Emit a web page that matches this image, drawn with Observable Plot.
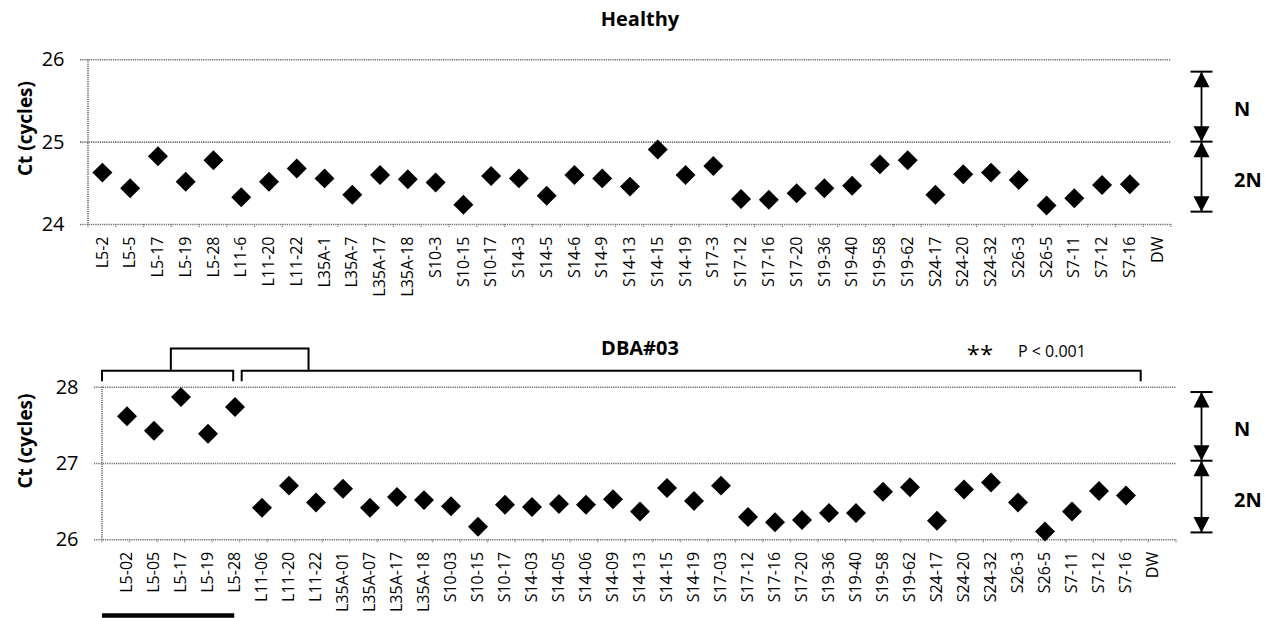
<!DOCTYPE html>
<html><head><meta charset="utf-8">
<script src="https://cdn.jsdelivr.net/npm/d3@7"></script>
<script src="https://cdn.jsdelivr.net/npm/@observablehq/plot@0.6"></script>
<style>
html,body{margin:0;padding:0;background:#fff;}
#wrap{position:relative;width:1280px;height:618px;overflow:hidden;font-family:"Open Sans",sans-serif;}
#wrap svg{position:absolute;left:0;}
</style></head>
<body><div id="wrap"></div>
<script>
// ---- data ----
const healthyLabels = ["L5-2","L5-5","L5-17","L5-19","L5-28","L11-6","L11-20","L11-22","L35A-1","L35A-7","L35A-17","L35A-18","S10-3","S10-15","S10-17","S14-3","S14-5","S14-6","S14-9","S14-13","S14-15","S14-19","S17-3","S17-12","S17-16","S17-20","S19-36","S19-40","S19-58","S19-62","S24-17","S24-20","S24-32","S26-3","S26-5","S7-11","S7-12","S7-16","DW"];
const healthyCt = [24.63,24.44,24.83,24.52,24.78,24.33,24.52,24.68,24.56,24.36,24.60,24.55,24.51,24.24,24.59,24.56,24.35,24.60,24.56,24.46,24.91,24.60,24.71,24.31,24.30,24.38,24.44,24.47,24.73,24.78,24.36,24.61,24.63,24.54,24.23,24.32,24.48,24.49];
const dbaLabels = ["L5-02","L5-05","L5-17","L5-19","L5-28","L11-06","L11-20","L11-22","L35A-01","L35A-07","L35A-17","L35A-18","S10-03","S10-15","S10-17","S14-03","S14-05","S14-06","S14-09","S14-13","S14-15","S14-19","S17-03","S17-12","S17-16","S17-20","S19-36","S19-40","S19-58","S19-62","S24-17","S24-20","S24-32","S26-3","S26-5","S7-11","S7-12","S7-16","DW"];
const dbaCt = [27.62,27.43,27.87,27.39,27.74,26.42,26.71,26.49,26.67,26.42,26.56,26.52,26.44,26.17,26.46,26.43,26.47,26.46,26.53,26.37,26.68,26.51,26.71,26.30,26.23,26.26,26.35,26.35,26.63,26.69,26.25,26.66,26.75,26.49,26.11,26.37,26.64,26.58];
const healthyTicks = [24, 25, 26];
const dbaTicks = [26, 27, 28];
const healthyCopyLevels = [25.85, 25.0, 24.15];   // N / 2N arrows
const dbaCopyLevels = [27.93, 27.03, 26.09];
const copyNames = ["N", "2N"];
const dbaGroupLeft = ["L5-02", "L5-28"];          // bracket groups
const dbaGroupRight = ["L11-06", "S7-16"];
const dbaConnector = ["L5-17", "L11-22"];
const dbaBracketLevels = [28.07, 28.21, 28.50];   // tick end, bracket, connector
const sigStars = "**";
const sigText = "P < 0.001";

const FONT = '"Open Sans", sans-serif';
const wrap = document.getElementById("wrap");

function panel(o) {
  const rows = o.values.map((v, i) => ({label: o.labels[i], ct: v}));
  const plot = Plot.plot({
    width: 1280, height: o.height,
    marginTop: o.mt, marginBottom: o.mb, marginLeft: o.ml, marginRight: o.mr,
    style: {fontFamily: FONT, color: "#000", background: "transparent"},
    x: {type: "band", domain: o.labels, padding: 0, label: null},
    y: {domain: [o.ticks[0], o.ticks[o.ticks.length - 1]], label: null},
    marks: [
      Plot.ruleY(o.ticks, {stroke: "#6a6a6a", strokeWidth: 1.6, strokeDasharray: "1.2,1", insetLeft: -8}),
      Plot.axisY({ticks: o.ticks, tickSize: 0, tickPadding: 24, fontSize: 20, label: null, tickFormat: d => String(d)}),
      Plot.axisX({tickRotate: -90, tickSize: 0, tickPadding: 12, fontSize: 16, label: null}),
      Plot.dot(rows, {x: "label", y: "ct", symbol: "diamond2", r: 9, fill: "#000", stroke: "none"})
    ]
  });
  plot.style.top = o.top + "px";
  wrap.appendChild(plot);
  const svg = d3.select(plot);
  svg.selectAll('[aria-label="x-axis tick label"], [aria-label="x-axis tick label"] text')
    .style("font-size", "16px").style("font-family", FONT);
  svg.selectAll('[aria-label="y-axis tick label"], [aria-label="y-axis tick label"] text')
    .style("font-size", "20px").style("font-family", FONT);
  const xs = plot.scale("x"), ys = plot.scale("y");
  const [r0, r1] = xs.range;
  const bw = (r1 - r0) / o.labels.length;
  const edge = lab => r0 + o.labels.indexOf(lab) * bw;
  const center = lab => edge(lab) + bw / 2;
  const y = v => ys.apply(v);
  const yTop = y(o.ticks[o.ticks.length - 1]), yBot = y(o.ticks[0]);
  const g = svg.append("g");
  // left dotted axis
  g.append("line").attr("x1", r0).attr("x2", r0).attr("y1", yTop).attr("y2", yBot)
    .attr("stroke", "#6a6a6a").attr("stroke-width", 1.6).attr("stroke-dasharray", "1.2,1");
  // x tick marks at band boundaries
  for (let i = 0; i <= o.labels.length; i++) {
    const xx = r0 + i * bw;
    g.append("line").attr("x1", xx).attr("x2", xx).attr("y1", yBot).attr("y2", yBot + 4)
      .attr("stroke", "#6a6a6a").attr("stroke-width", 1.2).attr("stroke-dasharray", "1,1");
  }
  const txt = (sel, size, weight, anchor) => sel.style("font-family", FONT).style("font-size", size + "px")
    .style("font-weight", weight).attr("fill", "#000").attr("text-anchor", anchor || "middle");
  // y title
  txt(g.append("text").attr("transform", `translate(27,${o.ytitleY}) rotate(-90)`)
    .attr("dominant-baseline", "middle"), 19, 700).text("Ct (cycles)");
  // panel title
  txt(g.append("text").attr("x", 640).attr("y", o.titleY), 20, 700).text(o.title);
  // copy-number arrows
  const ax = 1201.5;
  const [lt, lm, lb] = o.copy.map(y);
  const ink = "#000";
  g.append("line").attr("x1", ax).attr("x2", ax).attr("y1", lt).attr("y2", lb).attr("stroke", ink).attr("stroke-width", 1.8);
  [lt, lm, lb].forEach(yy => g.append("line").attr("x1", ax - 11).attr("x2", ax + 11).attr("y1", yy).attr("y2", yy).attr("stroke", ink).attr("stroke-width", 2));
  const tri = (yy, dir) => g.append("path")
    .attr("d", `M${ax},${yy} L${ax - 8},${yy + dir * 15.5} L${ax + 8},${yy + dir * 15.5} Z`).attr("fill", ink);
  tri(lt, 1); tri(lm, -1); tri(lm, 1); tri(lb, -1);
  txt(g.append("text").attr("x", 1234).attr("y", (lt + lm) / 2 + 4.5).attr("dominant-baseline", "middle"), 20, 700, "start").text(copyNames[0]);
  txt(g.append("text").attr("x", 1234).attr("y", (lm + lb) / 2 + 5).attr("dominant-baseline", "middle"), 20, 700, "start").text(copyNames[1]);
  return {g, edge, center, y, bw, txt};
}

panel({labels: healthyLabels, values: healthyCt, ticks: healthyTicks, copy: healthyCopyLevels,
  title: "Healthy", top: 0, height: 300, mt: 59.3, mb: 76, ml: 88, mr: 109, ytitleY: 128.5, titleY: 26});

const p2 = panel({labels: dbaLabels, values: dbaCt, ticks: dbaTicks, copy: dbaCopyLevels,
  title: "DBA#03", top: 300, height: 318, mt: 86.7, mb: 78.7, ml: 102, mr: 104, ytitleY: 141, titleY: 55});

// significance brackets (bottom panel)
{
  const {g, edge, center, y, txt} = p2;
  const yTick = y(dbaBracketLevels[0]), yBr = y(dbaBracketLevels[1]), yCon = y(dbaBracketLevels[2]);
  const xl0 = edge(dbaGroupLeft[0]), xl1 = edge(dbaGroupRight[0]) - 6.5;
  const xr0 = edge(dbaGroupRight[0]) + 2, xr1 = center(dbaGroupRight[1]) + 6;
  const path = d => g.append("path").attr("d", d).attr("stroke", "#000").attr("stroke-width", 2).attr("fill", "none");
  path(`M${xl0},${yTick} V${yBr} H${xl1} V${yTick}`);
  path(`M${xr0},${yTick} V${yBr} H${xr1} V${yTick}`);
  path(`M${center(dbaConnector[0])},${yBr} V${yCon} H${center(dbaConnector[1])} V${yBr}`);
  txt(g.append("text").attr("x", 980).attr("y", 63), 24, 400).text(sigStars);
  txt(g.append("text").attr("x", 1018).attr("y", 57), 16, 400, "start").text(sigText);
  // black bar under L5 group
  g.append("line").attr("x1", xl0).attr("x2", xl1 + 1).attr("y1", 315.5).attr("y2", 315.5)
    .attr("stroke", "#000").attr("stroke-width", 4.5);
}
</script>
</body></html>
